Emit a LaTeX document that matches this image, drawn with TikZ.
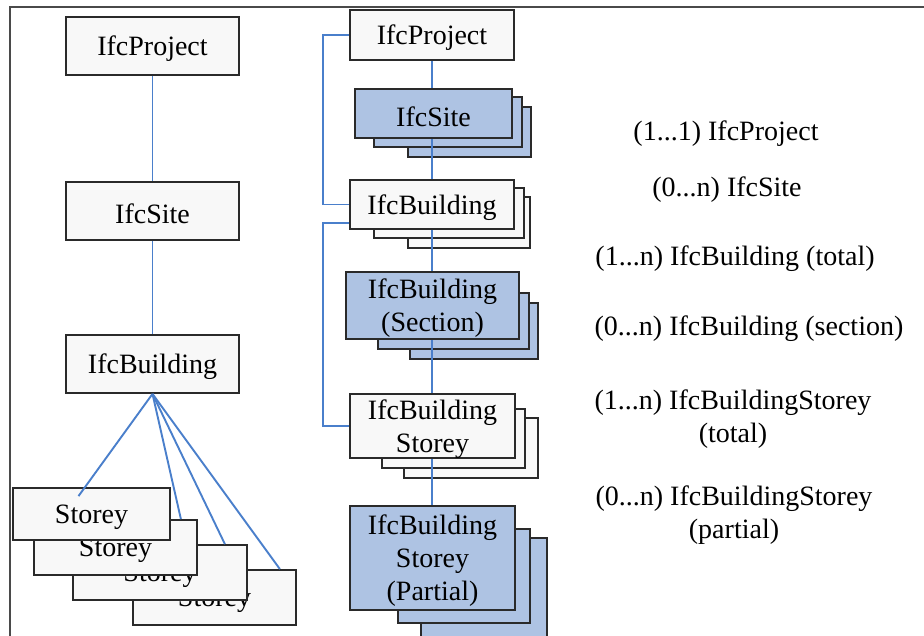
\documentclass[tikz,border=0pt]{standalone}
\usepackage{fontspec}
\setmainfont{Liberation Serif}
\usetikzlibrary{calc}
\definecolor{boxgray}{HTML}{F8F8F8}
\definecolor{boxblue}{HTML}{AEC3E3}
\definecolor{linkblue}{HTML}{4A7FCB}
\definecolor{edgegray}{HTML}{2A2A2A}
\tikzset{
  ent/.style={draw=edgegray, line width=1.8pt, fill=boxgray, inner sep=0pt},
  entblue/.style={ent, fill=boxblue},
  entlabel/.style={align=center, inner sep=0pt, yshift=-3pt,
    font=\fontsize{28}{33}\selectfont},
  link/.style={draw=linkblue, line width=1.9pt},
  note/.style={align=center, inner sep=0pt, yshift=-3pt,
    font=\fontsize{28}{33}\selectfont},
}
% box from corner coordinates: #1 style, #2 name, #3 x1, #4 y1, #5 x2, #6 y2, #7 text
\newcommand{\entbox}[7]{%
  \node[#1, minimum width=#5pt-#3pt, minimum height=#6pt-#4pt,
    label={[entlabel]center:#7}]
    (#2) at ({(#3+#5)/2},{(#4+#6)/2}) {};}
\begin{document}
\begin{tikzpicture}[x=1pt,y=-1pt]
\useasboundingbox (0,0) rectangle (924,635);
% outer frame
\draw[edgegray!85, line width=2pt] (10,636) -- (10,7) -- (925,7);

% ---- left hierarchy ----
\entbox{ent}{lp}{66}{17}{239}{75}{IfcProject}
\entbox{ent}{ls}{66}{182}{239}{240}{IfcSite}
\entbox{ent}{lb}{66}{335}{239}{393}{IfcBuilding}
\entbox{ent}{s4}{133}{570}{296}{625}{Storey}
\entbox{ent}{s3}{73}{545}{247}{600}{Storey}
\entbox{ent}{s2}{34}{520}{197}{575}{Storey}
\entbox{ent}{s1}{13}{488}{170}{540}{Storey}
\draw[link] (lp.south) -- (ls.north);
\draw[link] (ls.south) -- (lb.north);
\draw[link] (lb.south) -- ($(s1.north)+(-13,9)$);
\draw[link] (lb.south) -- ($(s2.north east)+(-17,0)$);
\draw[link] (lb.south) -- ($(s3.north east)+(-23,0)$);
\draw[link] (lb.south) -- ($(s4.north east)+(-17,0)$);

% ---- middle hierarchy ----
\entbox{ent}{mp}{350}{10}{514}{60}{IfcProject}

\entbox{entblue}{ms3}{408}{107}{531}{157}{}
\entbox{entblue}{ms2}{374}{97}{522}{147}{}
\entbox{entblue}{ms}{355}{89}{512}{138}{IfcSite}

\entbox{ent}{mb3}{408}{197}{530}{248}{}
\entbox{ent}{mb2}{374}{188}{524}{238}{}
\entbox{ent}{mb}{350}{180}{514}{229}{IfcBuilding}

\entbox{entblue}{mc3}{410}{303}{538}{359}{}
\entbox{entblue}{mc2}{378}{293}{529}{349}{}
\entbox{entblue}{mc}{346}{272}{519}{339}{IfcBuilding\\(Section)}

\entbox{ent}{mt3}{404}{418}{538}{478}{}
\entbox{ent}{mt2}{382}{409}{525}{468}{}
\entbox{ent}{mt}{350}{394}{515}{458}{IfcBuilding\\Storey}

\entbox{entblue}{mq3}{421}{538}{547}{660}{}
\entbox{entblue}{mq2}{398}{529}{530}{623}{}
\entbox{entblue}{mq}{350}{506}{515}{610}{IfcBuilding\\Storey\\(Partial)}

\draw[link] (mp.south) -- (mp.south |- ms.north);
\draw[link] (mp.south |- ms.south) -- (mp.south |- mb.north);
\draw[link] (mp.south |- mb.south) -- (mp.south |- mc.north);
\draw[link] (mp.south |- mc.south) -- (mp.south |- mt.north);
\draw[link] (mp.south |- mt.south) -- (mp.south |- mq.north);

\coordinate (rail) at (323,0);
\draw[link] (mp.west) -- (rail |- mp.west) |- (mb.west);
\draw[link] ($(mb.south west)+(0,-7)$) -- (rail |- {$(mb.south west)+(0,-7)$}) |- (mt.west);

% ---- cardinalities ----
\node[note] (c1) at (726,131) {(1...1) IfcProject};
\node[note] (c2) at (727,187) {(0...n) IfcSite};
\node[note] (c3) at (735,256) {(1...n) IfcBuilding (total)};
\node[note] (c4) at (749,326) {(0...n) IfcBuilding (section)};
\node[note] (c5) at (733,416) {(1...n) IfcBuildingStorey\\(total)};
\node[note] (c6) at (734,512) {(0...n) IfcBuildingStorey\\(partial)};
\end{tikzpicture}
\end{document}
